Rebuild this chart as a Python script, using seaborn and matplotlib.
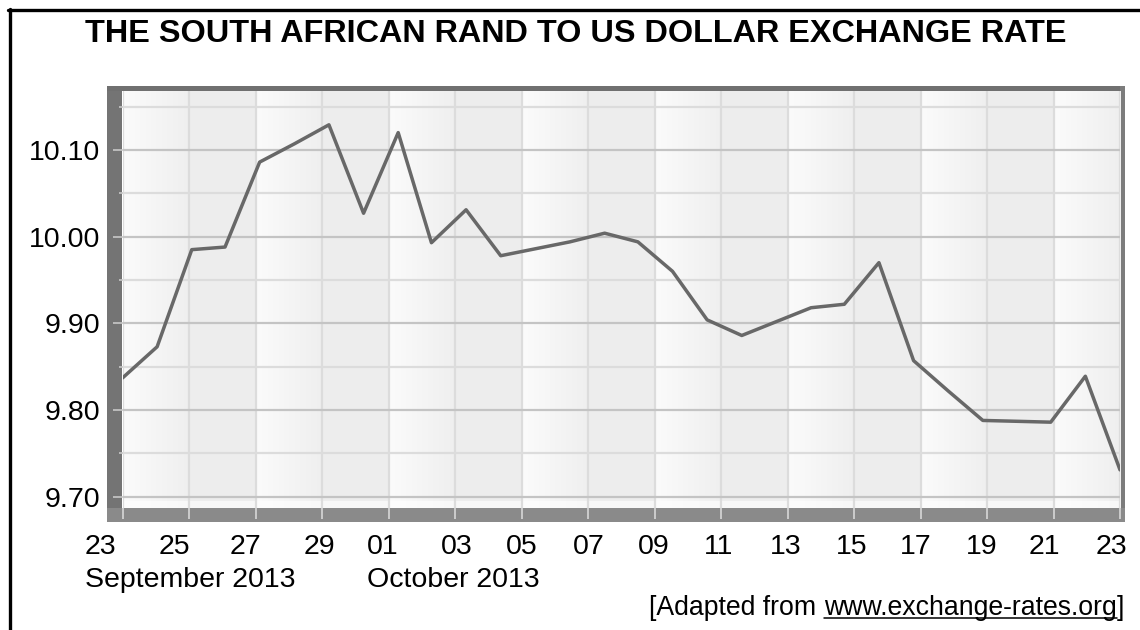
import numpy as np
import pandas as pd
import matplotlib
matplotlib.use("Agg")
import matplotlib.pyplot as plt
import matplotlib.dates as mdates
from matplotlib.patches import Rectangle
from matplotlib.lines import Line2D
from matplotlib.colors import LinearSegmentedColormap
from matplotlib.ticker import FixedLocator
from matplotlib.transforms import ScaledTranslation, IdentityTransform
import seaborn as sns

# readings taken off the chart: 30 points spread evenly over the month
obs_times = [
    "2013-09-23 00:00", "2013-09-24 01:00", "2013-09-25 02:00", "2013-09-26 02:00",
    "2013-09-27 03:00", "2013-09-28 04:00", "2013-09-29 05:00", "2013-09-30 06:00",
    "2013-10-01 07:00", "2013-10-02 07:00", "2013-10-03 08:00", "2013-10-04 09:00",
    "2013-10-05 10:00", "2013-10-06 11:00", "2013-10-07 12:00", "2013-10-08 12:00",
    "2013-10-09 13:00", "2013-10-10 14:00", "2013-10-11 15:00", "2013-10-12 16:00",
    "2013-10-13 17:00", "2013-10-14 17:00", "2013-10-15 18:00", "2013-10-16 19:00",
    "2013-10-17 20:00", "2013-10-18 21:00", "2013-10-19 22:00", "2013-10-20 22:00",
    "2013-10-21 23:00", "2013-10-23 00:00",
]
zar_rates = [
    9.837, 9.873, 9.985, 9.988, 10.086, 10.107, 10.129, 10.027,
    10.120, 9.993, 10.031, 9.978, 9.986, 9.994, 10.004, 9.994,
    9.960, 9.904, 9.886, 9.902, 9.918, 9.922, 9.970, 9.857,
    9.822, 9.788, 9.787, 9.786, 9.839, 9.731,
]
y_major = [9.70, 9.80, 9.90, 10.00, 10.10]
y_minor = [9.75, 9.85, 9.95, 10.05, 10.15]
month_labels = ["September 2013", "October 2013"]
title = "THE SOUTH AFRICAN RAND TO US DOLLAR EXCHANGE RATE"

df = pd.DataFrame({"time": pd.to_datetime(obs_times), "rate": zar_rates})

sns.set_style("white")
plt.rcParams["font.family"] = ["Liberation Sans", "DejaVu Sans"]
plt.rcParams["text.color"] = "black"

W, H = 1140, 630
def fx(px):
    return px / W
def fy(py):
    return 1 - py / H

fig = plt.figure(figsize=(W / 100, H / 100), dpi=100)
ax = fig.add_axes([fx(122.5), fy(508), fx(1120) - fx(122.5), fy(91) - fy(508)])

sns.lineplot(data=df, x="time", y="rate", ax=ax, color="#686868", linewidth=2.5, zorder=3)

x_start, x_end = pd.Timestamp("2013-09-23"), pd.Timestamp("2013-10-23")
y_lo, y_hi = 9.687, 10.168
tick_dates = pd.date_range(x_start, x_end, freq="2D")

# alternating column shading
grad = np.linspace(0, 1, 64).reshape(1, -1)
light = LinearSegmentedColormap.from_list("col", ["#fbfbfb", "#efefef"])
for i in range(len(tick_dates) - 1):
    a = mdates.date2num(tick_dates[i])
    b = mdates.date2num(tick_dates[i + 1])
    if i % 2 == 0:
        ax.imshow(grad, extent=[a, b, y_lo, y_hi], aspect="auto", cmap=light,
                  zorder=0, interpolation="bilinear")
    else:
        ax.axvspan(a, b, color="#ededed", lw=0, zorder=0)
ax.axhspan(y_lo, 9.695, color="white", alpha=0.6, lw=0, zorder=0.2)

ax.set_xlim(x_start, x_end)
ax.set_ylim(y_lo, y_hi)
ax.set_xlabel("")
ax.set_ylabel("")
for s in ax.spines.values():
    s.set_visible(False)

ax.xaxis.set_major_locator(FixedLocator(mdates.date2num(tick_dates)))
ax.xaxis.set_major_formatter(mdates.DateFormatter("%d"))
ax.yaxis.set_major_locator(FixedLocator(y_major))
ax.yaxis.set_minor_locator(FixedLocator(y_minor))
ax.yaxis.set_major_formatter(plt.FormatStrFormatter("%.2f"))

ax.grid(True, which="major", axis="y", color="#c4c4c4", lw=1.6, zorder=0.5)
ax.grid(True, which="minor", axis="y", color="#dcdcdc", lw=1.6, zorder=0.5)
ax.grid(True, which="major", axis="x", color="#dcdcdc", lw=1.6, zorder=0.5)

ax.tick_params(axis="y", which="major", left=True, direction="out", length=7.2, width=1.2,
               color="#c8c8c8", pad=8.6, labelsize=20.5, labelcolor="black")
ax.tick_params(axis="y", which="minor", left=True, direction="out", length=3, width=1.2,
               color="#c8c8c8")
ax.tick_params(axis="x", which="major", bottom=True, direction="out", length=8, width=1.4,
               color="#cccccc", pad=10.5, labelsize=20.5, labelcolor="black")

# the day labels sit a little left of their ticks in the original
nudge_px = [-22, -15, -10, -3, -6, 2, 0, 1, -1, -2, -2, -2, -5, -5, -9, -9]
for lab, dx in zip(ax.get_xticklabels(), nudge_px):
    lab.set_transform(lab.get_transform() + ScaledTranslation(dx / 100, 0, fig.dpi_scale_trans))

# dark frame round the plot
frame = [
    (107, 86, 15, 436, "#747474"),
    (107, 86, 1018, 5, "#707070"),
    (1120, 86, 5, 436, "#7c7c7c"),
    (107, 508, 1018, 14, "#8a8a8a"),
]
for x0, y0, w, h, c in frame:
    fig.add_artist(Rectangle((fx(x0), fy(y0 + h)), w / W, h / H, transform=fig.transFigure,
                             color=c, lw=0, zorder=-1))

# black page border
fig.add_artist(Line2D([fx(8), 1], [fy(10), fy(10)], color="black", lw=2.4))
fig.add_artist(Line2D([fx(10), fx(10)], [0, fy(9)], color="black", lw=2.4))

fig.text(0.505, fy(42), title, ha="center", va="baseline", fontsize=23.3, fontweight="bold")

fig.text(fx(85), fy(587), month_labels[0], ha="left", va="baseline", fontsize=20.5)
fig.text(fx(367), fy(587), month_labels[1], ha="left", va="baseline", fontsize=20.5)

src_size = 19.2
t_close = fig.text(fx(1124), fy(615), "]", ha="right", va="baseline", fontsize=src_size)
t_url = fig.text(0, 0, "www.exchange-rates.org", fontsize=src_size)
t_pre = fig.text(0, 0, "[Adapted from ", fontsize=src_size)
fig.canvas.draw()
r = fig.canvas.get_renderer()
bb = t_close.get_window_extent(r)
t_url.set_position((bb.x0 / W, fy(615)))
t_url.set_ha("right")
t_url.set_va("baseline")
bb2 = t_url.get_window_extent(r)
t_pre.set_position((bb2.x0 / W, fy(615)))
t_pre.set_ha("right")
t_pre.set_va("baseline")
fig.add_artist(Line2D([bb2.x0, bb2.x1], [H - 618, H - 618], transform=IdentityTransform(),
                      color="black", lw=1.1))

fig.savefig("out.png", dpi=100)
